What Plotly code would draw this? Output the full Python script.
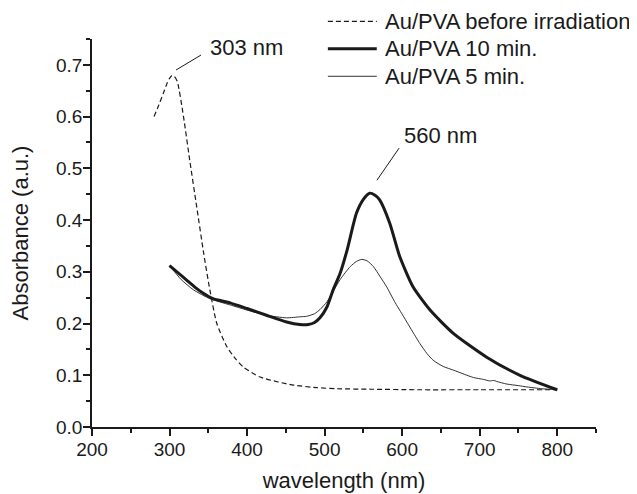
import plotly.graph_objects as go

# ---- data ----
before_x = [280, 285, 292, 297, 300, 303, 306, 310, 318, 326, 335, 344, 352, 361, 374, 385,
            395, 416, 440, 460, 490, 516, 560, 620, 700, 800]
before_y = [0.600, 0.618, 0.645, 0.665, 0.674, 0.679, 0.678, 0.668, 0.600, 0.516, 0.426,
            0.336, 0.265, 0.200, 0.155, 0.132, 0.116, 0.097, 0.087, 0.081, 0.076, 0.074,
            0.073, 0.072, 0.072, 0.072]

min10_x = [300, 311, 322, 333, 344, 356, 378, 400, 425, 451, 468, 479, 487, 494, 503,
           511, 520, 529, 541, 550, 558, 565, 571, 584, 597, 614, 636, 666, 709, 752, 800]
min10_y = [0.312, 0.298, 0.284, 0.270, 0.258, 0.248, 0.240, 0.229, 0.216, 0.203, 0.198,
           0.198, 0.202, 0.211, 0.232, 0.265, 0.297, 0.342, 0.413, 0.440, 0.452, 0.448,
           0.439, 0.394, 0.329, 0.271, 0.226, 0.181, 0.135, 0.100, 0.072]

min5_x = [300, 315, 331, 352, 378, 400, 425, 451, 468, 477, 487, 494, 503, 511, 520, 533,
          541, 548, 555, 563, 571, 580, 590, 602, 612, 623, 632, 640, 653, 666, 680, 692,
          705, 713, 718, 722, 735, 750, 761, 780, 800]
min5_y = [0.312, 0.285, 0.265, 0.248, 0.236, 0.226, 0.216, 0.211, 0.213, 0.214, 0.219,
          0.227, 0.242, 0.262, 0.285, 0.310, 0.320, 0.324, 0.321, 0.310, 0.292, 0.271,
          0.243, 0.213, 0.188, 0.161, 0.142, 0.129, 0.117, 0.110, 0.102, 0.0956, 0.092,
          0.089, 0.090, 0.088, 0.083, 0.080, 0.0774, 0.074, 0.072]

series_names = ["Au/PVA before irradiation", "Au/PVA 10 min.", "Au/PVA 5 min."]

peak_labels = ["303 nm", "560 nm"]
peak_tips_x = [308.3, 567.5]
peak_tips_y = [0.690, 0.477]
peak_ends_x = [340.6, 596.0]
peak_ends_y = [0.719, 0.539]
peak_text_x = [349.6, 599.8]
peak_text_y = [0.733, 0.564]

x_ticks = [200, 300, 400, 500, 600, 700, 800]
y_ticks = [0.0, 0.1, 0.2, 0.3, 0.4, 0.5, 0.6, 0.7]

FONT = "Arial, Liberation Sans, Helvetica, sans-serif"
INK = "#1a1a1a"

styles = [dict(width=1.2, dash="5px,3px"), dict(width=3, dash="solid"),
          dict(width=0.9, dash="solid")]
data = [(before_x, before_y), (min10_x, min10_y), (min5_x, min5_y)]

fig = go.Figure()
for (xs, ys), name, st in zip(data, series_names, styles):
    fig.add_trace(go.Scatter(x=xs, y=ys, mode="lines", name=name, showlegend=False,
                             line=dict(color=INK, width=st["width"], dash=st["dash"],
                                       shape="spline", smoothing=0.6)))

# peak labels with leader lines
for lab, tx, ty, ex, ey, ax_, ay_ in zip(peak_labels, peak_tips_x, peak_tips_y,
                                          peak_ends_x, peak_ends_y, peak_text_x, peak_text_y):
    fig.add_shape(type="line", x0=tx, y0=ty, x1=ex, y1=ey, xref="x", yref="y",
                  line=dict(color=INK, width=1))
    fig.add_annotation(x=ax_, y=ay_, xref="x", yref="y", text=lab, showarrow=False,
                       xanchor="left", yanchor="middle",
                       font=dict(family=FONT, size=22, color=INK))

# legend drawn in paper coordinates (line samples + labels)
leg_line_x0, leg_line_x1, leg_text_x = 0.468, 0.565, 0.578
leg_rows_y = [1.0456, 0.9747, 0.9039]
for name, st, ly in zip(series_names, styles, leg_rows_y):
    fig.add_shape(type="line", xref="paper", yref="paper", x0=leg_line_x0, x1=leg_line_x1,
                  y0=ly, y1=ly, line=dict(color=INK, width=st["width"], dash=st["dash"]))
    fig.add_annotation(x=leg_text_x, y=ly, xref="paper", yref="paper", text=name,
                       showarrow=False, xanchor="left", yanchor="middle",
                       font=dict(family=FONT, size=22, color=INK))

axis_common = dict(showline=True, linecolor=INK, linewidth=1.5, ticks="outside",
                   ticklen=7, tickwidth=1.5, tickcolor=INK, showgrid=False, zeroline=False,
                   mirror=False, automargin=False, ticklabelstandoff=-3,
                   tickfont=dict(family=FONT, size=19, color=INK))

fig.update_xaxes(range=[200, 850], tickvals=x_ticks,
                 minor=dict(dtick=50, tick0=200, ticks="outside", ticklen=4,
                            tickcolor=INK, tickwidth=1.5, showgrid=False),
                 title=dict(text="wavelength (nm)", font=dict(family=FONT, size=22, color=INK),
                            standoff=14),
                 **axis_common)
fig.update_yaxes(range=[0, 0.75], tickvals=y_ticks, tickformat=".1f",
                 minor=dict(dtick=0.05, tick0=0, ticks="outside", ticklen=4,
                            tickcolor=INK, tickwidth=1.5, showgrid=False),
                 title=dict(text="Absorbance (a.u.)", font=dict(family=FONT, size=22, color=INK),
                            standoff=28),
                 **axis_common)

# the page body has an 8px margin; the figure is sized to fit the window
fig.update_layout(
    width=629, height=486,
    margin=dict(l=84, r=41, t=31, b=67, autoexpand=False),
    paper_bgcolor="white", plot_bgcolor="white",
    font=dict(family=FONT, color=INK),
    showlegend=False,
)

fig.write_html("out.html")
